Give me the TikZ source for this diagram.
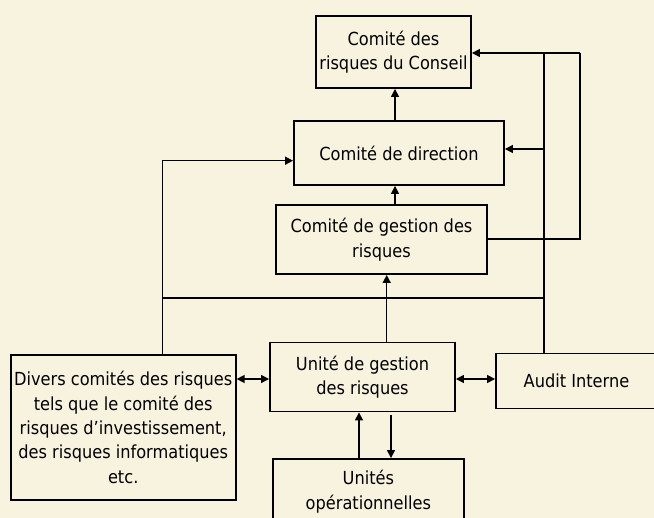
\documentclass[tikz,border=0pt]{standalone}
\usepackage{fontspec}
\setmainfont{DejaVu Sans Condensed}
\usetikzlibrary{arrows.meta}
\definecolor{bgcol}{RGB}{248,243,222}
\tikzset{
  box/.style={draw=black, line width=1.9pt, fill=bgcol, align=center, inner sep=0pt,
    font=\fontsize{18}{24.4}\selectfont},
  conn/.style={line width=1.5pt, -{Triangle[length=8pt,width=8pt]}},
  dconn/.style={line width=1.5pt, {Triangle[length=8pt,width=8pt]}-{Triangle[length=8pt,width=8pt]}},
  plain/.style={line width=1.5pt}
}
\begin{document}
\begin{tikzpicture}[x=1pt,y=-1pt]
\fill[bgcol] (0,0) rectangle (654,518);
\useasboundingbox (0,0) rectangle (654,518);
\begin{scope}
\clip (0,0) rectangle (654,518);
\node[box, minimum width=155pt, minimum height=72pt] (crc) at (393.5,52) {Comité des\\risques du Conseil};
\node[box, minimum width=210pt, minimum height=64pt] (cd) at (399,153) {Comité de direction};
\node[box, minimum width=211pt, minimum height=69pt] (cgr) at (381.5,239.5) {Comité de gestion des\\risques};
\node[box, minimum width=185pt, minimum height=69pt] (ugr) at (362.5,377) {Unité de gestion\\des risques};
\node[box, minimum width=225pt, minimum height=145pt] (div) at (123.2,427.5) {Divers comités des risques\\tels que le comité des\\risques d’investissement,\\des risques informatiques\\etc.};
\node[box, minimum width=161pt, minimum height=55pt] (aud) at (576.5,381) {Audit Interne};
\node[box, minimum width=191pt, minimum height=65pt] (ops) at (368.4,491.5) {Unités\\opérationnelles};

\coordinate (r1) at (544,53);
\coordinate (r2) at (580,53);
\coordinate (r3) at (580,239);
\coordinate (l1) at (162.7,160.7);
\coordinate (h1) at (162.7,298);
\coordinate (h2) at (544,298);

% vertical chain
\draw[conn] (cd.north -| 395,0) -- (crc.south -| 395,0);
\draw[conn] (cgr.north -| 395,0) -- (cd.south -| 395,0);
\draw[conn] (ugr.north -| 386.7,0) -- (cgr.south -| 386.7,0);

% right side
\draw[plain] (aud.north -| r1) -- (r1);
\draw[conn] (r2) -- (crc.east |- r1);
\draw[conn] (544,149) -- (cd.east |- 0,149);
\draw[plain] (cgr.east |- r3) -- (r3) -- (r2);

% left side
\draw[conn] (div.north -| l1) -- (l1) -- (cd.west |- l1);
\draw[plain] (h1) -- (h2);

% horizontal double arrows
\draw[dconn] (div.east |- 0,379) -- (ugr.west |- 0,379);
\draw[dconn] (ugr.east |- 0,379) -- (aud.west |- 0,379);

% operational units
\draw[conn] (ops.north -| 359,0) -- (ugr.south -| 359,0);
\draw[conn] (ugr.south -| 391,0) ++(0,3) -- (ops.north -| 391,0);
\end{scope}
\end{tikzpicture}
\end{document}
